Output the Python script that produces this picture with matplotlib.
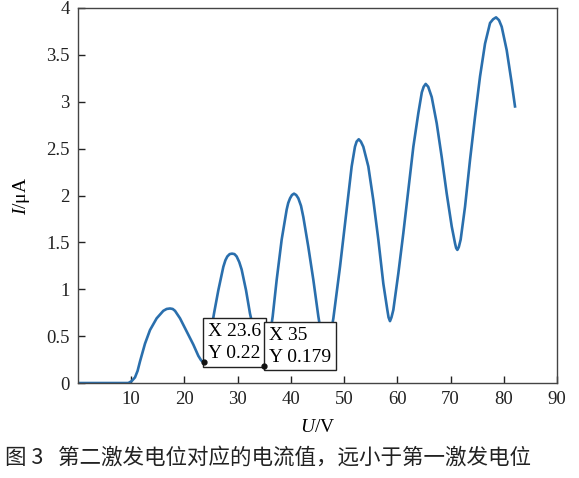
import matplotlib
matplotlib.use("Agg")
import matplotlib.pyplot as plt

plt.rcParams['font.family'] = ['Liberation Serif', 'DejaVu Serif']
plt.rcParams['mathtext.fontset'] = 'custom'
plt.rcParams['mathtext.rm'] = 'Liberation Serif'
plt.rcParams['mathtext.it'] = 'Liberation Serif:italic'

# Voltage U (V) and current I (uA)
u_vals = [0, 5, 9.46, 10.08, 10.71, 11.2, 11.65, 12.59, 13.53, 14.78, 16.03, 16.66, 17.29,
          17.79, 18.23, 19.17, 20.42, 21.67, 22.61, 23.1, 23.36, 23.6, 24.0, 24.5, 25.0,
          25.55, 26.37, 27.31, 27.7, 28.06, 28.5, 28.94, 29.4, 29.81, 30.3, 30.75,
          31.57, 32.32, 33.2, 34.2, 34.7, 35.0, 35.3, 35.8, 36.58, 37.33, 38.27,
          39.21, 39.5, 39.84, 40.2, 40.59, 41.0, 41.40, 41.9, 42.34, 43.28, 44.22,
          45.16, 46.0, 46.6, 47.2, 47.98, 49.23, 50.48, 51.42, 52.04, 52.35, 52.75,
          53.15, 53.61, 54.55, 55.49, 56.43, 57.37, 58.12, 58.35, 58.62, 58.9, 59.25,
          60.19, 61.13, 62.07, 63.01, 63.95, 64.6, 64.95, 65.33, 65.8, 66.46, 67.40,
          68.34, 69.28, 70.22, 70.84, 71.05, 71.28, 71.55, 71.90, 72.72, 73.66, 74.60,
          75.54, 76.48, 77.42, 78.0, 78.55, 79.1, 79.61, 80.55, 81.49, 82.11]
i_vals = [0, 0, 0.0, 0.02, 0.06, 0.13, 0.23, 0.42, 0.565, 0.69, 0.77, 0.79, 0.795,
          0.79, 0.77, 0.69, 0.55, 0.41, 0.29, 0.245, 0.23, 0.22, 0.25, 0.38, 0.55,
          0.74, 0.99, 1.24, 1.31, 1.35, 1.375, 1.38, 1.375, 1.35, 1.29, 1.21,
          0.99, 0.74, 0.52, 0.30, 0.21, 0.179, 0.21, 0.40, 0.71, 1.10, 1.53,
          1.85, 1.92, 1.97, 2.005, 2.02, 2.005, 1.97, 1.89, 1.77, 1.45, 1.10,
          0.71, 0.42, 0.33, 0.42, 0.69, 1.24, 1.85, 2.31, 2.52, 2.575, 2.60,
          2.575, 2.52, 2.31, 1.95, 1.53, 1.06, 0.78, 0.70, 0.66, 0.70, 0.78,
          1.17, 1.60, 2.06, 2.52, 2.88, 3.10, 3.16, 3.19, 3.16, 3.05, 2.77,
          2.41, 2.02, 1.67, 1.49, 1.44, 1.42, 1.45, 1.53, 1.88, 2.38, 2.84,
          3.27, 3.62, 3.84, 3.88, 3.90, 3.87, 3.80, 3.55, 3.20, 2.95]

tip_x = [23.6, 35]
tip_y = [0.22, 0.179]
tip_labels = ["X 23.6\nY 0.22", "X 35\nY 0.179"]

x_ticks = [10, 20, 30, 40, 50, 60, 70, 80, 90]
y_ticks = [0, 0.5, 1, 1.5, 2, 2.5, 3, 3.5, 4]
y_tick_labels = ["0", "0.5", "1", "1.5", "2", "2.5", "3", "3.5", "4"]

caption = "图 3   第二激发电位对应的电流值，远小于第一激发电位"

fig = plt.figure(figsize=(5.79, 4.78), dpi=100)
ax = fig.add_axes([0.1347, 0.1987, 0.8273, 0.7846])

ax.plot(u_vals, i_vals, color='#2a6fad', lw=1.9, solid_joinstyle='round', zorder=2)
ax.set_xlim(0, 90)
ax.set_ylim(0, 4)
ax.set_xticks(x_ticks)
ax.set_yticks(y_ticks)
ax.set_yticklabels(y_tick_labels)
ax.tick_params(direction='in', length=5, width=1, labelsize=13.5, colors='#222222',
               top=False, right=False, pad=6)
for s in ax.spines.values():
    s.set_color('#444444')
    s.set_linewidth(1.0)

ax.set_xlabel("$U$/V", fontsize=14, labelpad=8)
ax.set_ylabel("$I$/μA", fontsize=14, labelpad=10)

for x, y, lab in zip(tip_x, tip_y, tip_labels):
    ax.annotate(lab, xy=(x, y), xytext=(3.2, 0.3), textcoords='offset points',
                ha='left', va='bottom', fontsize=14, linespacing=1.4,
                bbox=dict(boxstyle='square,pad=0.24', fc='white', ec='#222222', lw=1.0),
                zorder=4)
    ax.plot([x], [y], 'o', color='#111111', ms=3.5, zorder=5)

fig.text(0.008, 0.02, caption, fontsize=15.5, color='#222222',
         family=['Noto Sans CJK SC', 'DejaVu Sans'], ha='left', va='bottom')

fig.savefig("out.png", dpi=100)
